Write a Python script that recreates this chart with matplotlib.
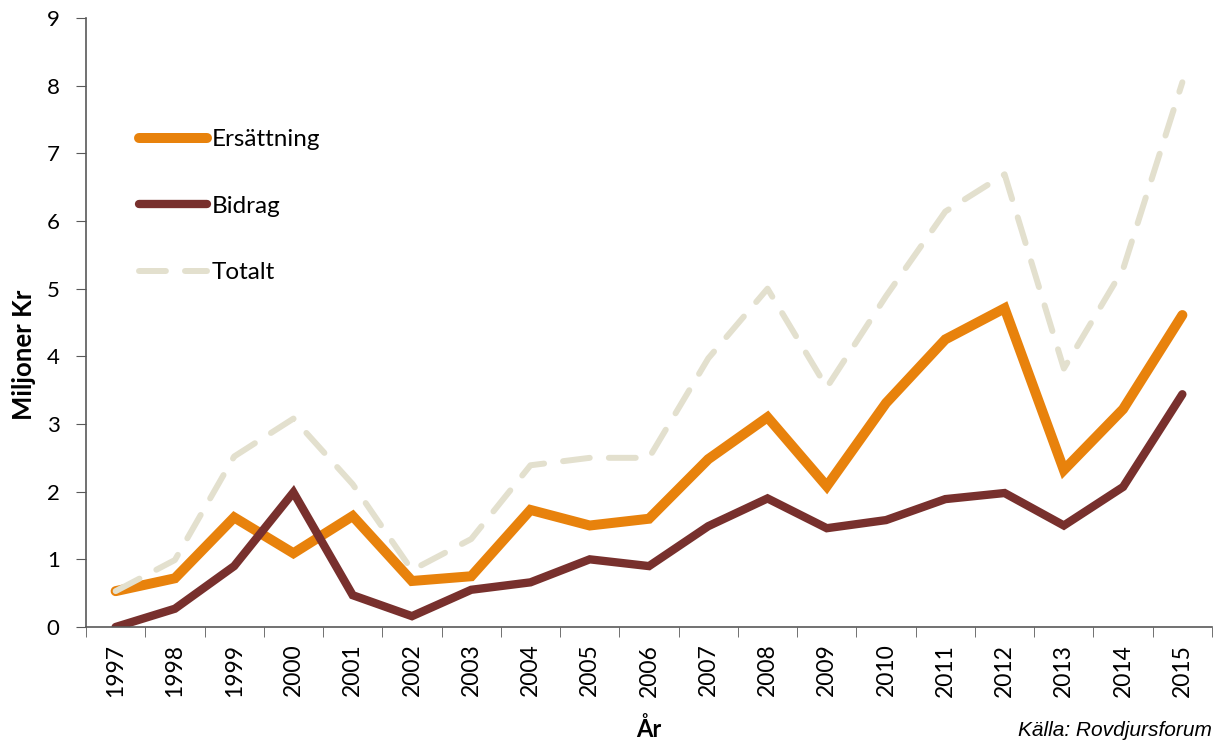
import numpy as np
import matplotlib
matplotlib.use('Agg')
import matplotlib.pyplot as plt

plt.rcParams['font.family'] = ['Lato', 'DejaVu Sans']

years = ['1997', '1998', '1999', '2000', '2001', '2002', '2003', '2004', '2005', '2006',
         '2007', '2008', '2009', '2010', '2011', '2012', '2013', '2014', '2015']
ersattning = [0.53, 0.72, 1.62, 1.09, 1.64, 0.68, 0.75, 1.73, 1.50, 1.60,
              2.48, 3.10, 2.08, 3.31, 4.25, 4.71, 2.32, 3.22, 4.61]
bidrag = [0.00, 0.27, 0.90, 1.99, 0.47, 0.16, 0.55, 0.66, 1.00, 0.90,
          1.49, 1.90, 1.46, 1.58, 1.89, 1.98, 1.50, 2.07, 3.44]
totalt = [0.53, 0.99, 2.52, 3.08, 2.11, 0.84, 1.30, 2.39, 2.50, 2.50,
          3.97, 5.00, 3.54, 4.89, 6.14, 6.69, 3.82, 5.29, 8.05]

x = np.arange(len(years))

fig = plt.figure(figsize=(12.29, 7.47), dpi=100)
ax = fig.add_axes([86/1229, 1-627/747, (1212-86)/1229, (627-18)/747])

ax.plot(x, ersattning, color='#E8820C', lw=7.2, solid_capstyle='round',
        solid_joinstyle='miter', label='Ersättning')
ax.plot(x, bidrag, color='#78302D', lw=6, solid_capstyle='round',
        solid_joinstyle='miter', label='Bidrag')
ax.plot(x, totalt, color='#E3E0CE', lw=4.3, dashes=(4.5, 3.2),
        dash_capstyle='round', label='Totalt')

ax.set_xlim(-0.5, len(years) - 0.5)
ax.set_ylim(0, 9)
ax.set_yticks(range(0, 10))
ax.set_xticks(x)
ax.set_xticklabels(years, rotation=90, fontsize=16.5)
ax.set_xticks(np.arange(-0.5, len(years), 1), minor=True)
ax.tick_params(axis='x', which='major', length=0, pad=12)
ax.tick_params(axis='x', which='minor', length=7, direction='out', color='#595959')
ax.tick_params(axis='y', labelsize=16, length=7, direction='out', color='#595959', pad=12)

for s in ['top', 'right']:
    ax.spines[s].set_visible(False)
for s in ['left', 'bottom']:
    ax.spines[s].set_color('#595959')
    ax.spines[s].set_linewidth(1.2)

ax.set_ylabel('Miljoner Kr', fontsize=18.5, fontweight='bold')
ax.yaxis.set_label_coords(-0.044, 0.447)
ax.set_xlabel('År', fontsize=17, fontweight='bold', labelpad=15)

fig.text(1212/1229, 1-731/747, 'Källa: Rovdjursforum', fontsize=15, style='italic',
         family='Liberation Sans', ha='right', va='center')

ax.legend(loc='upper left', bbox_to_anchor=(0.038, 0.833), frameon=False, fontsize=17.5,
          handlelength=2.8, handletextpad=0.2, labelspacing=1.87, borderaxespad=0)

fig.savefig('out.png', dpi=100)
